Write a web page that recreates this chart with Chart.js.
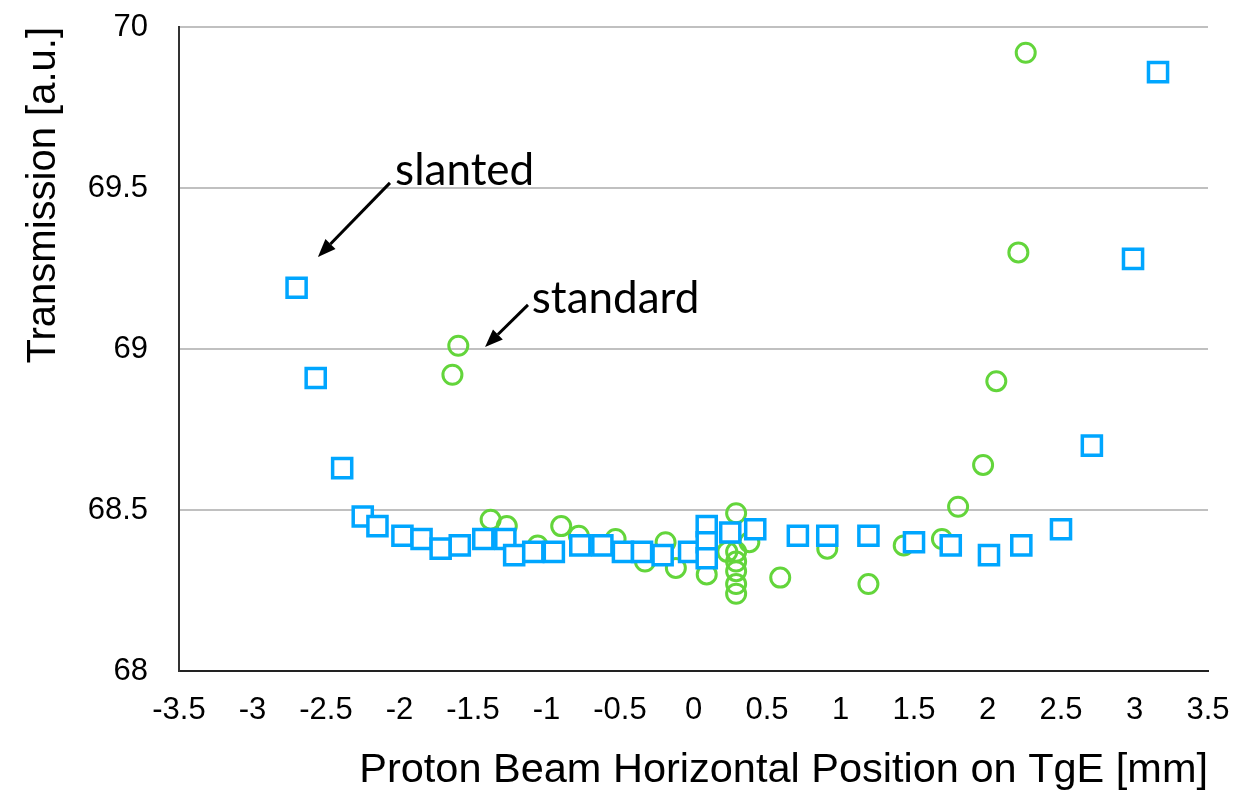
<!DOCTYPE html>
<html>
<head>
<meta charset="utf-8">
<script src="https://cdn.jsdelivr.net/npm/chart.js@4.4.1/dist/chart.umd.min.js"></script>
<style>
  html, body { margin: 0; padding: 0; background: #fff; }
  #chart { display: block; }
</style>
</head>
<body>
<canvas id="chart" width="1258" height="791"></canvas>
<script>
// slanted target (blue squares)
const slantedX = [-2.70, -2.57, -2.39, -2.25, -2.15, -1.98, -1.85, -1.72, -1.59, -1.43,
  -1.28, -1.22, -1.09, -0.95, -0.77, -0.62, -0.48, -0.35, -0.21, -0.03,
  0.09, 0.09, 0.09, 0.25, 0.42, 0.71, 0.91, 1.19, 1.50, 1.75,
  2.01, 2.23, 2.50, 2.71, 2.99, 3.16];
const slantedY = [69.19, 68.91, 68.63, 68.48, 68.45, 68.42, 68.41, 68.38, 68.39, 68.41,
  68.41, 68.36, 68.37, 68.37, 68.39, 68.39, 68.37, 68.37, 68.36, 68.37,
  68.45, 68.40, 68.35, 68.43, 68.44, 68.42, 68.42, 68.42, 68.40, 68.39,
  68.36, 68.39, 68.44, 68.70, 69.28, 69.86];

// standard target (green circles)
const standardX = [-1.64, -1.60, -1.38, -1.27, -1.06, -0.90, -0.78, -0.53, -0.33, -0.19,
  -0.12, 0.09, 0.23, 0.29, 0.29, 0.29, 0.29, 0.29, 0.29, 0.38,
  0.59, 0.91, 1.19, 1.43, 1.69, 1.80, 1.97, 2.06, 2.21, 2.26];
const standardY = [68.92, 69.01, 68.47, 68.45, 68.39, 68.45, 68.42, 68.41, 68.34, 68.40,
  68.32, 68.30, 68.37, 68.49, 68.37, 68.34, 68.31, 68.27, 68.24, 68.40,
  68.29, 68.38, 68.27, 68.39, 68.41, 68.51, 68.64, 68.90, 69.30, 69.92];

const xTicks = [-3.5, -3, -2.5, -2, -1.5, -1, -0.5, 0, 0.5, 1, 1.5, 2, 2.5, 3, 3.5];
const yTicks = [68, 68.5, 69, 69.5, 70];

// callouts, in data units
const notes = [
  { text: "slanted", x: -2.03, y: 69.51, from: [-2.065, 69.516], to: [-2.555, 69.286] },
  { text: "standard", x: -1.10, y: 69.112, from: [-1.126, 69.137], to: [-1.418, 69.006] },
];

const toPoints = (xs, ys) => xs.map((x, i) => ({ x: x, y: ys[i] }));

const calloutPlugin = {
  id: "callouts",
  afterDatasetsDraw(chart) {
    const ctx = chart.ctx;
    const sx = chart.scales.x;
    const sy = chart.scales.y;
    ctx.save();
    ctx.fillStyle = "#000";
    ctx.strokeStyle = "#000";
    ctx.font = "44px Lato, 'Open Sans', sans-serif";
    ctx.textBaseline = "alphabetic";
    ctx.textAlign = "left";
    notes.forEach((n) => {
      ctx.fillText(n.text, sx.getPixelForValue(n.x), sy.getPixelForValue(n.y));
      const x1 = sx.getPixelForValue(n.from[0]);
      const y1 = sy.getPixelForValue(n.from[1]);
      const x2 = sx.getPixelForValue(n.to[0]);
      const y2 = sy.getPixelForValue(n.to[1]);
      const a = Math.atan2(y2 - y1, x2 - x1);
      const head = 18;
      const bx = x2 - head * Math.cos(a);
      const by = y2 - head * Math.sin(a);
      ctx.lineWidth = 3;
      ctx.beginPath();
      ctx.moveTo(x1, y1);
      ctx.lineTo(bx, by);
      ctx.stroke();
      ctx.beginPath();
      ctx.moveTo(x2, y2);
      ctx.lineTo(bx + 7 * Math.sin(a), by - 7 * Math.cos(a));
      ctx.lineTo(bx - 7 * Math.sin(a), by + 7 * Math.cos(a));
      ctx.closePath();
      ctx.fill();
    });
    ctx.restore();
  },
};

const ctx = document.getElementById("chart").getContext("2d");
const chart = new Chart(ctx, {
  type: "scatter",
  data: {
    datasets: [
      {
        label: "slanted",
        data: toPoints(slantedX, slantedY),
        pointStyle: "rect",
        pointRadius: 13.5,
        borderWidth: 3.5,
        borderColor: "#00a6ff",
        backgroundColor: "#ffffff",
      },
      {
        label: "standard",
        data: toPoints(standardX, standardY),
        pointStyle: "circle",
        pointRadius: 9.5,
        borderWidth: 3,
        borderColor: "#63d53b",
        backgroundColor: "rgba(0,0,0,0)",
      },
    ],
  },
  options: {
    responsive: false,
    animation: false,
    events: [],
    layout: { padding: { top: 27, right: 50, bottom: 0, left: 0 } },
    plugins: {
      legend: { display: false },
      tooltip: { enabled: false },
    },
    scales: {
      x: {
        type: "linear",
        min: -3.5,
        max: 3.5,
        afterBuildTicks: (scale) => {
          scale.ticks = xTicks.map((v) => ({ value: v }));
        },
        afterFit: (scale) => {
          scale.height = 120;
        },
        grid: { display: false, drawTicks: false },
        border: { display: true, color: "#222", width: 2 },
        ticks: {
          padding: 21,
          color: "#000",
          maxRotation: 0,
          autoSkip: false,
          callback: (v) => String(v),
          font: { family: "'Liberation Sans', Arial, sans-serif", size: 31 },
        },
        title: {
          display: true,
          text: "Proton Beam Horizontal Position on TgE [mm]",
          align: "end",
          color: "#000",
          padding: { top: 0, bottom: 0 },
          font: { family: "'Liberation Sans', Arial, sans-serif", size: 41.5, lineHeight: 1 },
        },
      },
      y: {
        type: "linear",
        min: 68,
        max: 70,
        afterBuildTicks: (scale) => {
          scale.ticks = yTicks.map((v) => ({ value: v }));
        },
        afterFit: (scale) => {
          scale.width = 179;
          scale.paddingTop = 0;
          scale.paddingBottom = 0;
        },
        grid: { color: "#c0c0c0", lineWidth: 2, drawTicks: false },
        border: { display: true, color: "#333", width: 2 },
        ticks: {
          padding: 31,
          color: "#000",
          callback: (v) => String(v),
          font: { family: "'Liberation Sans', Arial, sans-serif", size: 31 },
        },
        title: {
          display: true,
          text: "Transmission [a.u.]",
          align: "end",
          color: "#000",
          padding: { top: 24, bottom: 0 },
          font: { family: "'Liberation Sans', Arial, sans-serif", size: 40, lineHeight: 1 },
        },
      },
    },
  },
  plugins: [calloutPlugin],
});
</script>
</body>
</html>
